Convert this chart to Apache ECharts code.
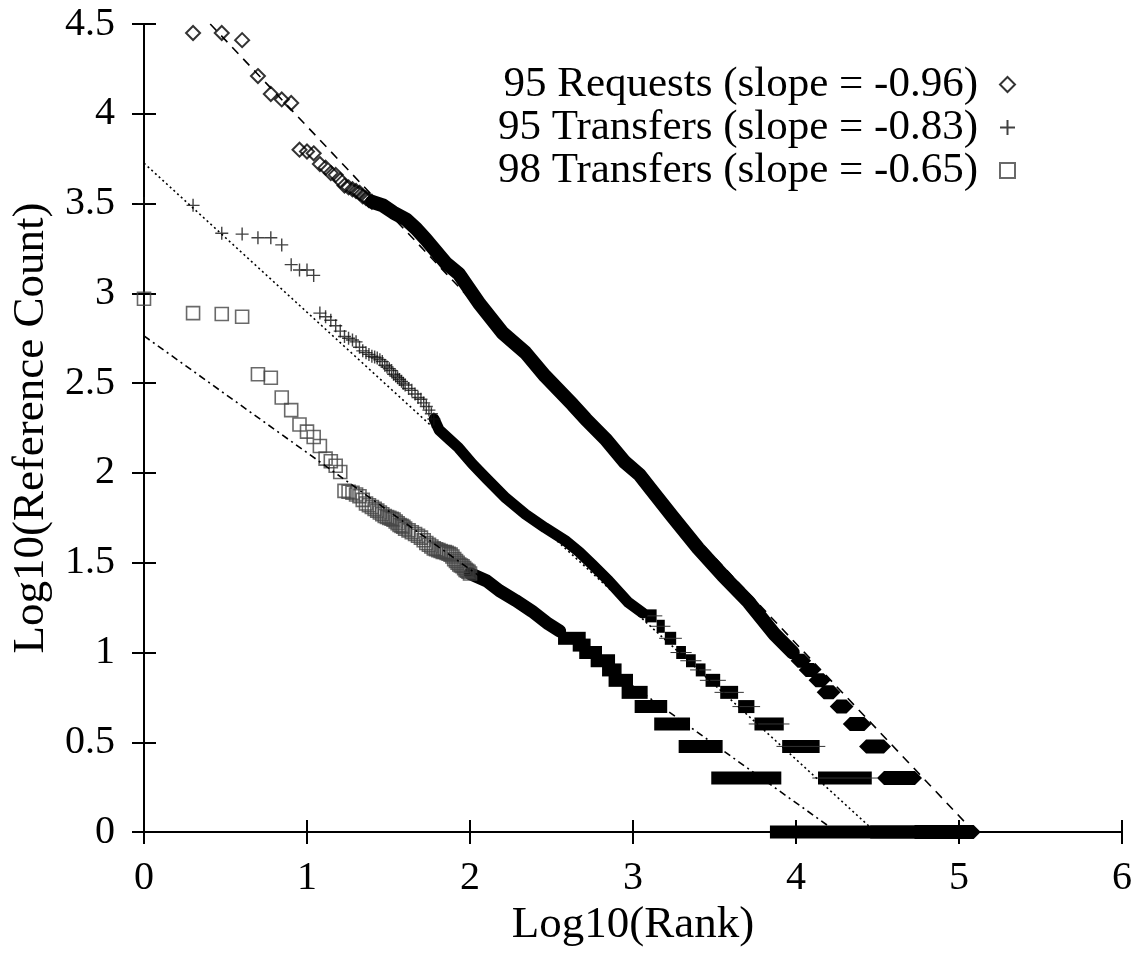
<!DOCTYPE html>
<html>
<head>
<meta charset="utf-8">
<script src="https://cdn.jsdelivr.net/npm/echarts@6/dist/echarts.min.js"></script>
<style>
  html, body { margin: 0; padding: 0; background: #fff; }
  #chart { width: 1135px; height: 953px; }
</style>
</head>
<body>
<div id="chart"></div>
<script>
// Log10(rank), Log10(count) pairs
const seriesNames = ['95 Requests (slope = -0.96)', '95 Transfers (slope = -0.83)', '98 Transfers (slope = -0.65)'];

// 95 Requests: discrete diamonds at the head
const reqHead = [
  [0.301, 4.45], [0.477, 4.45], [0.602, 4.41], [0.699, 4.21], [0.778, 4.11], [0.845, 4.08],
  [0.903, 4.06], [0.954, 3.80], [1.000, 3.79], [1.041, 3.78], [1.079, 3.72], [1.114, 3.70],
  [1.146, 3.67], [1.176, 3.66], [1.204, 3.63], [1.230, 3.60], [1.255, 3.59], [1.279, 3.58],
  [1.301, 3.57], [1.322, 3.56], [1.342, 3.54], [1.362, 3.53], [1.380, 3.52], [1.398, 3.51]
];
// dense part, where the diamonds merge into a solid band
const reqBand = [
  [1.40, 3.51], [1.465, 3.49], [1.53, 3.45], [1.61, 3.41], [1.67, 3.36], [1.73, 3.30],
  [1.85, 3.17], [1.93, 3.11], [2.06, 2.94], [2.20, 2.78], [2.34, 2.67], [2.46, 2.54],
  [2.63, 2.38], [2.71, 2.30], [2.83, 2.19], [2.95, 2.06], [3.04, 1.99], [3.10, 1.92],
  [3.24, 1.76], [3.40, 1.58], [3.55, 1.43], [3.71, 1.28], [3.87, 1.10], [3.98, 1.00]
];
// tail plateaus: [count, first log10 rank, last log10 rank]
const reqSteps = [
  [9, 4.01, 4.05], [8, 4.06, 4.11], [7, 4.12, 4.17], [6, 4.17, 4.23], [5, 4.25, 4.31],
  [4, 4.33, 4.42], [3, 4.43, 4.54], [2, 4.54, 4.73], [1, 4.73, 5.09]
];

// 95 Transfers: plus signs
const tr95Head = [
  [0.000, 3.50], [0.301, 3.49], [0.477, 3.335], [0.602, 3.33], [0.699, 3.31], [0.778, 3.31],
  [0.845, 3.27], [0.903, 3.16], [0.954, 3.13], [1.000, 3.13], [1.041, 3.10], [1.079, 2.89],
  [1.114, 2.87], [1.146, 2.85], [1.176, 2.82], [1.204, 2.79], [1.230, 2.76], [1.255, 2.75],
  [1.279, 2.74], [1.301, 2.73], [1.322, 2.70], [1.342, 2.68], [1.362, 2.67], [1.380, 2.66],
  [1.398, 2.65], [1.415, 2.645], [1.431, 2.64], [1.447, 2.63], [1.462, 2.62], [1.477, 2.60],
  [1.491, 2.59], [1.505, 2.58], [1.519, 2.57], [1.531, 2.55], [1.544, 2.54], [1.556, 2.53],
  [1.568, 2.52], [1.580, 2.51], [1.591, 2.50], [1.602, 2.49], [1.623, 2.47], [1.643, 2.46],
  [1.663, 2.44], [1.681, 2.42], [1.699, 2.41], [1.716, 2.39], [1.732, 2.37], [1.748, 2.35],
  [1.763, 2.33], [1.778, 2.30]
];
const tr95Band = [
  [1.78, 2.30], [1.81, 2.24], [1.87, 2.19], [1.93, 2.14], [2.015, 2.05], [2.10, 1.97],
  [2.22, 1.86], [2.34, 1.77], [2.46, 1.695], [2.59, 1.62], [2.67, 1.56], [2.75, 1.49],
  [2.85, 1.40], [2.97, 1.28], [3.06, 1.22]
];
const tr95Steps = [
  [16, 3.08, 3.14], [14, 3.15, 3.19], [12, 3.20, 3.26], [10, 3.27, 3.32], [9, 3.33, 3.38],
  [8, 3.39, 3.44], [7, 3.45, 3.53], [6, 3.54, 3.64], [5, 3.65, 3.74], [4, 3.75, 3.92],
  [3, 3.92, 4.14], [2, 4.14, 4.46], [1, 4.46, 4.85]
];

// 98 Transfers: squares
const tr98Head = [
  [0.000, 2.97], [0.301, 2.89], [0.477, 2.885], [0.602, 2.87], [0.699, 2.55], [0.778, 2.53],
  [0.845, 2.42], [0.903, 2.35], [0.954, 2.27], [1.000, 2.23], [1.041, 2.20], [1.079, 2.15],
  [1.114, 2.08], [1.146, 2.065], [1.176, 2.04], [1.204, 2.005], [1.230, 1.90], [1.255, 1.895],
  [1.279, 1.89], [1.301, 1.88], [1.322, 1.87], [1.342, 1.85], [1.362, 1.83], [1.380, 1.82],
  [1.398, 1.81], [1.415, 1.80], [1.431, 1.79], [1.447, 1.78], [1.462, 1.77], [1.477, 1.76],
  [1.491, 1.755], [1.505, 1.75], [1.519, 1.745], [1.531, 1.74], [1.544, 1.73], [1.556, 1.72],
  [1.568, 1.71], [1.580, 1.705], [1.591, 1.70], [1.602, 1.69], [1.623, 1.68], [1.643, 1.67],
  [1.663, 1.66], [1.681, 1.65], [1.699, 1.64], [1.716, 1.625], [1.732, 1.61], [1.748, 1.60],
  [1.763, 1.59], [1.778, 1.58], [1.792, 1.575], [1.806, 1.57], [1.820, 1.565], [1.833, 1.56],
  [1.845, 1.56], [1.857, 1.555], [1.869, 1.55], [1.881, 1.545], [1.892, 1.535], [1.903, 1.52],
  [1.914, 1.51], [1.924, 1.50], [1.934, 1.49], [1.944, 1.485], [1.954, 1.48], [1.964, 1.47],
  [1.973, 1.46], [1.982, 1.455], [1.991, 1.45], [2.000, 1.44]
];
const tr98Band = [
  [2.00, 1.44], [2.10, 1.40], [2.18, 1.345], [2.28, 1.29], [2.38, 1.23], [2.48, 1.16], [2.55, 1.12]
];
const tr98Steps = [
  [12, 2.58, 2.67], [11, 2.67, 2.70], [10, 2.71, 2.77], [9, 2.78, 2.85], [8, 2.85, 2.89],
  [7, 2.89, 2.96], [6, 2.97, 3.05], [5, 3.05, 3.17], [4, 3.17, 3.31], [3, 3.32, 3.51],
  [2, 3.52, 3.87], [1, 3.88, 4.93]
];

// least squares fits: [intercept, slope]
const reqFit = [4.89, -0.96];
const tr95Fit = [3.725, -0.83];
const tr98Fit = [2.763, -0.65];

const yMax = 4.5;
const font = 'Liberation Serif';

function fitLine(fit) {
  const b = fit[0], m = fit[1];
  const x0 = b > yMax ? (yMax - b) / m : 0;
  return [[x0, b + m * x0], [-b / m, 0]];
}

function stepData(steps) {
  return steps.map(s => [Math.log10(s[0]), s[1], s[2]]);
}

// plateau of merged markers at one count
function stepItem(kind) {
  return function (params, api) {
    const y = api.value(0);
    const a = api.coord([api.value(1), y]);
    const b = api.coord([api.value(2), y]);
    const h = 7;
    if (kind === 'diamond') {
      return {
        type: 'polygon',
        shape: { points: [[a[0] - h, a[1]], [a[0], a[1] - h], [b[0], b[1] - h], [b[0] + h, b[1]], [b[0], b[1] + h], [a[0], a[1] + h]] },
        style: { fill: '#000' }
      };
    }
    if (kind === 'plus') {
      return {
        type: 'group',
        children: [
          { type: 'rect', shape: { x: a[0] - 0.8, y: a[1] - 6.5, width: b[0] - a[0] + 1.6, height: 13 }, style: { fill: '#000' } },
          { type: 'line', shape: { x1: a[0] - 6.5, y1: a[1], x2: b[0] + 6.5, y2: b[1] }, style: { stroke: '#333', lineWidth: 1 } }
        ]
      };
    }
    return {
      type: 'rect',
      shape: { x: a[0] - 6.5, y: a[1] - 6.5, width: b[0] - a[0] + 13, height: 13 },
      style: { fill: '#000' }
    };
  };
}

function band(data, width) {
  return {
    type: 'line', data: data, showSymbol: false, silent: true, clip: false,
    lineStyle: { color: '#000', width: width, cap: 'round', join: 'round' },
    z: 2
  };
}

function steps(data, kind) {
  return {
    type: 'custom', data: stepData(data), renderItem: stepItem(kind),
    encode: { x: [1, 2], y: 0 }, silent: true, z: 2
  };
}

function fit(data, dash, width) {
  return {
    type: 'line', data: fitLine(data), showSymbol: false, silent: true,
    lineStyle: { color: '#000', width: width, type: dash },
    z: 3
  };
}

const chart = echarts.init(document.getElementById('chart'), null, { renderer: 'canvas' });

const axisCommon = {
  axisLine: { show: true, lineStyle: { color: '#000', width: 2 } },
  axisTick: { show: true, inside: true, length: 12, lineStyle: { color: '#000', width: 2 } },
  splitLine: { show: false }
};

const option = {
  backgroundColor: '#fff',
  animation: false,
  grid: { left: 144, right: 11, top: 24, bottom: 117, containLabel: false },
  legend: {
    data: seriesNames,
    orient: 'vertical',
    right: 114,
    top: 58,
    align: 'right',
    itemWidth: 15,
    itemHeight: 15,
    itemGap: 0,
    textStyle: { fontFamily: font, fontSize: 43, color: '#000', lineHeight: 40, padding: [0, 17, 0, 0] }
  },
  xAxis: [
    Object.assign({
      type: 'value', min: 0, max: 6, interval: 1, position: 'bottom',
      name: 'Log10(Rank)', nameLocation: 'middle', nameGap: 52,
      nameTextStyle: { fontFamily: font, fontSize: 45, color: '#000' },
      axisLabel: { fontFamily: font, fontSize: 40, color: '#000', margin: 26 }
    }, axisCommon),
    Object.assign({
      type: 'value', min: 0, max: 6, interval: 1, position: 'top',
      axisLabel: { show: false }
    }, axisCommon)
  ],
  yAxis: [
    Object.assign({
      type: 'value', min: 0, max: yMax, interval: 0.5, position: 'left',
      name: 'Log10(Reference Count)', nameLocation: 'middle', nameGap: 86,
      nameTextStyle: { fontFamily: font, fontSize: 45, color: '#000' },
      axisLabel: { fontFamily: font, fontSize: 40, color: '#000', margin: 29 }
    }, axisCommon),
    Object.assign({
      type: 'value', min: 0, max: yMax, interval: 0.5, position: 'right',
      axisLabel: { show: false }
    }, axisCommon)
  ],
  series: [
    {
      name: seriesNames[0], type: 'scatter', data: reqHead,
      symbol: 'diamond', symbolSize: 14,
      itemStyle: { color: 'transparent', borderColor: '#000', borderWidth: 2 }, z: 2
    },
    band(reqBand, 14),
    steps(reqSteps, 'diamond'),
    fit(reqFit, [9, 7], 1.6),
    {
      name: seriesNames[1], type: 'scatter', data: tr95Head,
      symbol: 'path://M0,6L12,6M6,0L6,12', symbolSize: 13,
      itemStyle: { color: 'transparent', borderColor: '#111', borderWidth: 1.4 }, z: 2
    },
    band(tr95Band, 11),
    steps(tr95Steps, 'plus'),
    fit(tr95Fit, [2, 3], 1.6),
    {
      name: seriesNames[2], type: 'scatter', data: tr98Head,
      symbol: 'rect', symbolSize: 13,
      itemStyle: { color: 'transparent', borderColor: '#444', borderWidth: 1.6 }, z: 2
    },
    band(tr98Band, 13),
    steps(tr98Steps, 'square'),
    fit(tr98Fit, [7, 4, 2, 4], 1.6)
  ]
};

chart.setOption(option);
window.addEventListener('resize', chart.resize);
</script>
</body>
</html>
